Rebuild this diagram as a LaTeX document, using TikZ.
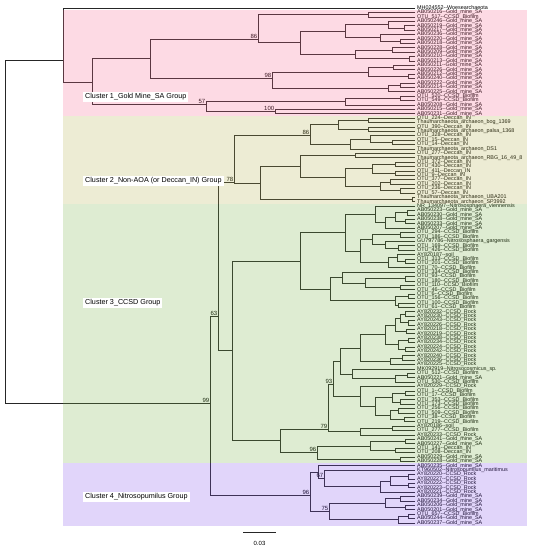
\documentclass[tikz,border=0pt]{standalone}
\usepackage{fontspec}
\setmainfont{Liberation Sans}
\definecolor{pinkB}{RGB}{247,107,147}
\definecolor{khakiB}{RGB}{183,179,83}
\definecolor{greenB}{RGB}{123,179,75}
\definecolor{purpleB}{RGB}{135,87,235}
\newcommand\dd{-{}-}
\newcommand\gm{\dd Gold\_mine\_SA}
\newcommand\cb{\dd CCSD\_Biofilm}
\newcommand\rk{\dd CCSD\_Rock}
\newcommand\dc{\dd Deccan\_IN}
\newcommand\ta{Thaumarchaeota\_archaeon\_}
\newcommand\cl[4]{\coordinate (#1) at (#2,#3); \foreach \c in {#4}{\draw[br] (\c) -| (#1);}}
\tikzset{
  br/.style={draw=black!85, line width=0.45pt},
  lab/.style={anchor=west, inner sep=0pt, font=\fontsize{5.4}{5.4}\selectfont},
  bs/.style={anchor=south east, inner sep=0.6pt, font=\fontsize{6}{6}\selectfont},
  clus/.style={fill=white, inner sep=2pt, anchor=west, font=\fontsize{7.2}{8}\selectfont},
  band/.style={fill opacity=0.25}
}
\begin{document}
\begin{tikzpicture}[x=1pt,y=-1pt]
\useasboundingbox (0,0) rectangle (535,550);
% leaves
\foreach \t [count=\i from 0] in {MH024552\dd Woesearchaeota,
AB050216\gm, OTU\_517\cb, AB050246\gm, AB050219\gm, AB050217\gm, AB050236\gm, AB050220\gm, AB050218\gm, AB050228\gm, AB050209\gm, AB050210\gm, AB050213\gm, AB050211\gm, AB050226\gm, AB050212\gm, AB050240\gm, AB050222\gm, AB050214\gm, AB050225\gm, OTU\_520\cb, OTU\_549\cb, AB050208\gm, AB050215\gm, AB050231\gm,
OTU\_224\dc, \ta bog\_1369, OTU\_390\dc, \ta palsa\_1368, OTU\_328\dc, OTU\_15\dc, OTU\_14\dc, \ta DS1, OTU\_277\dc, \ta RBG\_16\_49\_8, OTU\_372\dc, OTU\_430\dc, OTU\_411\dc, OTU\_9\dc, OTU\_377\dc, OTU\_202\dc, OTU\_236\dc, OTU\_57\dc, \ta UBA201, \ta SP3992,
NR\_134097\dd Nitrososphaera\_viennensis, AB050223\gm, AB050230\gm, AB050238\gm, AB050233\gm, AB050207\gm, OTU\_294\cb, OTU\_186\cb, GU797786\dd Nitrososphaera\_gargensis, OTU\_169\cb, OTU\_426\cb, AY820187\dd soil, OTU\_313\cb, OTU\_201\cb, OTU\_70\cb, OTU\_334\cb, OTU\_93\cb, OTU\_180\cb, OTU\_110\cb, OTU\_46\cb, OTU\_6\cb, OTU\_156\cb, OTU\_100\cb, OTU\_61\cb,
AY820232\rk, AY820230\rk, AY820243\rk, AY820226\rk, AY820218\rk, AY820219\rk, AY820238\rk, AY820234\rk, AY820224\rk, AY820242\rk, AY820240\rk, AY820236\rk, AY820225\rk,
MK092919\dd Nitrosocosmicus\_sp., OTU\_512\cb, AB050221\gm, OTU\_530\cb,
AY820229\rk, OTU\_1\cb, OTU\_17\cb, OTU\_353\cb, OTU\_173\cb, OTU\_256\cb, OTU\_509\cb, OTU\_38\cb, OTU\_219\cb,
AY820186\dd soil, OTU\_277\cb, AY820233\rk,
AB050241\gm, AB050227\gm, OTU\_141\dc, OTU\_208\dc, AB050229\gm, AB050228\gm,
AB050235\gm, KT960502\dd Nitrosopumilus\_maritimus, AY820220\rk, AY820227\rk, AY820222\rk, AY820223\rk, AY820221\rk, AB050239\gm, AB050234\gm, AB050206\gm, AB050201\gm, OTU\_657\cb, AB050244\gm, AB050237\gm}{
  \coordinate (L\i) at (415,{8+4.4*\i});
  \node[lab] (T\i) at (417,{8+4.4*\i}) {\t};
}
% cluster 1
\cl{a1}{368}{14.6}{L1,L2}
\cl{a2}{404}{27.8}{L4,L5}
\cl{a3}{388}{24.5}{L3,a2}
\cl{a4}{400}{41}{L7,L8}
\cl{a5}{380}{37.7}{L6,a4}
\cl{a6}{345}{31.1}{a3,a5}
\cl{a7}{392}{49.8}{L9,L10}
\cl{a8}{409}{58.6}{L11,L12}
\cl{a9}{355}{54.2}{a7,a8}
\cl{a10}{300}{42.6}{a6,a9}
\cl{n86a}{258}{39}{a1,a10}
\cl{b1}{393}{67.4}{L13,L14}
\cl{b2}{408}{76.2}{L15,L16}
\cl{b3}{368}{71.8}{b1,b2}
\cl{b4}{400}{85}{L17,L18}
\cl{b5}{388}{88}{b4,L19}
\cl{n98}{272}{78}{b3,b5}
\cl{e0}{400}{98.2}{L20,L21}
\cl{e1}{345}{101.5}{e0,L22}
\cl{n100}{275}{111.4}{L23,L24}
\cl{n57}{206}{104}{e1,n100}
\cl{x1}{150}{58.5}{n86a,n98}
\cl{C1}{92}{82.5}{x1,n57}
\cl{A}{63}{60}{L0,C1}
% cluster 2
\cl{f1}{368}{120.2}{L25,L26}
\cl{f2}{368}{129}{L27,L28}
\cl{f3}{338}{124.6}{f1,f2}
\cl{f4}{392}{142.2}{L30,L31}
\cl{f5}{370}{138.9}{L29,f4}
\cl{f6}{350}{143.9}{f5,L32}
\cl{n86b}{310}{135}{f3,f6}
\cl{g1}{355}{155.4}{L33,L34}
\cl{g2}{395}{164.2}{L35,L36}
\cl{g3}{395}{173}{L37,L38}
\cl{g4}{372}{168.6}{g2,g3}
\cl{g5}{390}{181.8}{L39,L40}
\cl{g5b}{400}{190.6}{L41,L42}
\cl{g5c}{380}{186.2}{g5,g5b}
\cl{g6}{345}{177.4}{g4,g5c}
\cl{g7}{300}{166.4}{g1,g6}
\cl{g8}{412}{199.4}{L43,L44}
\cl{g9}{260}{183}{g7,g8}
\cl{C2}{234}{182}{n86b,g9}
% cluster 3
\cl{h1}{407}{212.6}{L46,L47}
\cl{h2}{405}{221.4}{L48,L49}
\cl{h3}{395}{217}{h1,h2}
\cl{h4}{385}{222}{h3,L50}
\cl{h5}{375}{214}{L45,h4}
\cl{h6}{400}{234.6}{L51,L52}
\cl{h7}{398}{247.8}{L54,L55}
\cl{h8}{385}{244.5}{L53,h7}
\cl{h9}{372}{239.5}{h6,h8}
\cl{h10}{405}{261}{L57,L58}
\cl{h11}{397}{257.7}{L56,h10}
\cl{h12}{388}{262.7}{h11,L59}
\cl{h13}{360}{251}{h9,h12}
\cl{h14}{345}{232.5}{h5,h13}
\cl{h15}{405}{278.6}{L61,L62}
\cl{h16}{400}{287.4}{L63,L64}
\cl{h17}{365}{283}{h15,h16}
\cl{h18}{342}{277.5}{L60,h17}
\cl{h19}{408}{296.2}{L65,L66}
\cl{h20}{398}{305}{L67,L68}
\cl{h21}{395}{300.6}{h19,h20}
\cl{h22}{330}{289}{h18,h21}
\cl{T}{300}{260.8}{h14,h22}
\cl{r1}{405}{313.8}{L69,L70}
\cl{r2}{408}{322.6}{L71,L72}
\cl{r3}{400}{318.2}{r1,r2}
\cl{r4}{406}{331.4}{L73,L74}
\cl{r5}{395}{324.8}{r3,r4}
\cl{r6}{408}{340.2}{L75,L76}
\cl{r7}{405}{349}{L77,L78}
\cl{r8}{398}{344.6}{r6,r7}
\cl{r9}{385}{334.7}{r5,r8}
\cl{r10}{402}{357.8}{L79,L80}
\cl{r11}{390}{361}{r10,L81}
\cl{R}{360}{347.9}{r9,r11}
\cl{m1}{407}{375.4}{L83,L84}
\cl{m2}{395}{378.7}{m1,L85}
\cl{M}{352}{373.8}{L82,m2}
\cl{RM}{340}{360.8}{R,M}
\cl{o1}{405}{393}{L87,L88}
\cl{o2}{400}{401.8}{L89,L90}
\cl{o3}{392}{397.4}{o1,o2}
\cl{o4}{398}{410.6}{L91,L92}
\cl{o5}{404}{419.4}{L93,L94}
\cl{o6}{390}{415}{o4,o5}
\cl{o7}{375}{406.2}{o3,o6}
\cl{O}{360}{396.3}{L86,o7}
\cl{n93}{333}{384}{RM,O}
\cl{p1}{392}{428.2}{L95,L96}
\cl{p2}{360}{431.5}{p1,L97}
\cl{n79}{328}{429}{n93,p2}
\cl{q1}{405}{441.4}{L98,L99}
\cl{q2}{395}{450.2}{L100,L101}
\cl{q3}{370}{445.8}{q1,q2}
\cl{q4}{400}{459}{L102,L103}
\cl{n96g}{317}{452.4}{q3,q4}
\cl{U}{280}{440.7}{n79,n96g}
\cl{C3}{232}{350}{T,U}
\cl{n63}{218}{316}{C2,C3}
% cluster 4
\cl{s1}{408}{476.6}{L106,L107}
\cl{s2}{408}{485.4}{L108,L109}
\cl{s3}{390}{481}{s1,s2}
\cl{s4}{380}{486.5}{s3,L110}
\cl{n67}{324}{478}{L105,s4}
\cl{tt}{318}{472}{L104,n67}
\cl{u1}{400}{498.6}{L111,L112}
\cl{u2}{405}{507.4}{L113,L114}
\cl{u3}{385}{503}{u1,u2}
\cl{u4}{408}{516.2}{L115,L116}
\cl{u5}{398}{519.5}{u4,L117}
\cl{n75}{329}{511.3}{u3,u5}
\cl{n96p}{310}{495}{tt,n75}
\cl{n99}{210}{403}{n63,n96p}
\cl{Rt}{5}{224}{A,n99}
% bootstrap values
\node[bs] (b86a) at (n86a) {86};
\node[bs] (b98) at (n98) {98};
\node[bs] (b57) at (n57) {57};
\node[bs] (b100) at (n100) {100};
\node[bs] (b86b) at (n86b) {86};
\node[bs] (b78) at (C2) {78};
\node[bs] (b63) at (n63) {63};
\node[bs] (b93) at (n93) {93};
\node[bs] (b79) at (n79) {79};
\node[bs] (b96g) at (n96g) {96};
\node[bs] (b99) at (n99) {99};
\node[bs] (b67) at (n67) {67};
\node[bs] (b96p) at (n96p) {96};
\node[bs] (b75) at (n75) {75};
% bands
\fill[pinkB, band] (63,10.2) rectangle (527,115.8);
\fill[khakiB, band] (63,115.8) rectangle (527,203.8);
\fill[greenB, band] (63,203.8) rectangle (527,463.4);
\fill[purpleB, band] (63,463.4) rectangle (527,525.5);
% cluster labels
\node[clus] (k1) at (83,97) {Cluster 1\_Gold Mine\_SA Group};
\node[clus] (k2) at (83,181) {Cluster 2\_Non-AOA (or Deccan\_IN) Group};
\node[clus] (k3) at (83,303) {Cluster 3\_CCSD Group};
\node[clus] (k4) at (83,497) {Cluster 4\_Nitrosopumilus Group};
% scale bar
\coordinate (sb1) at (243,532);
\coordinate (sb2) at (276,532);
\draw[br] (sb1) -- (sb2);
\node[font=\fontsize{6}{6}\selectfont, inner sep=0pt] (sbl) at (259.5,543) {0.03};
\end{tikzpicture}
\end{document}
